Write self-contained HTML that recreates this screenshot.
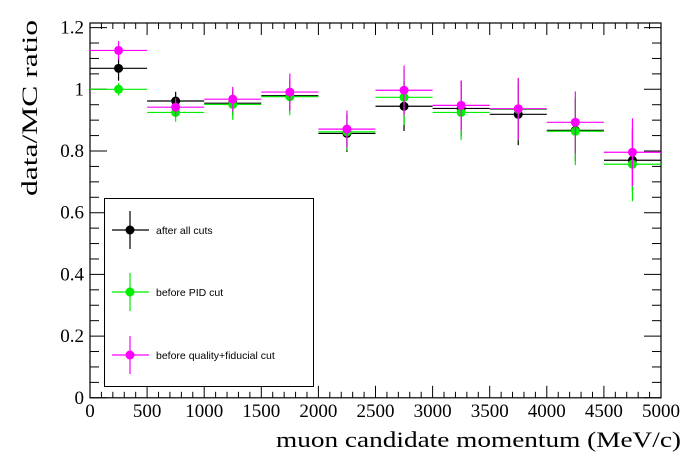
<!DOCTYPE html>
<html><head><meta charset="utf-8"><style>
body{margin:0;background:#fff}
svg{display:block}
text{font-family:"Liberation Serif",serif}
</style></head><body>
<svg id="chart" width="696" height="472" xmlns="http://www.w3.org/2000/svg">
<g id="ticks"></g>
<g id="marks"></g>
<g id="legend">
<rect x="104.5" y="198.5" width="209" height="188" fill="#fff" stroke="#000" stroke-width="1"/>
</g>
<text x="276" y="447" font-size="22" textLength="405" lengthAdjust="spacingAndGlyphs">muon candidate momentum (MeV/c)</text>
<text transform="translate(37,196) rotate(-90)" font-size="22" textLength="176" lengthAdjust="spacingAndGlyphs">data/MC ratio</text>
</svg>
<script>
const binEdges=[0,500,1000,1500,2000,2500,3000,3500,4000,4500,5000];
const seriesNames=["after all cuts","before PID cut","before quality+fiducial cut"];
const seriesColors=["#000000","#00ee00","#ff00ff"];
const allCuts=[1.068,0.962,0.955,0.979,0.857,0.945,0.938,0.919,0.867,0.770];
const allCutsErr=[0.04,0.03,0.04,0.05,0.06,0.08,0.09,0.10,0.10,0.10];
const beforePID=[1.0,0.925,0.951,0.976,0.862,0.974,0.925,0.935,0.864,0.757];
const beforePIDErr=[0.02,0.03,0.05,0.06,0.06,0.09,0.09,0.10,0.11,0.12];
const beforeQual=[1.126,0.942,0.968,0.991,0.871,0.997,0.948,0.937,0.893,0.796];
const beforeQualErr=[0.03,0.03,0.04,0.06,0.06,0.08,0.08,0.10,0.10,0.11];
const xTicks=[0,500,1000,1500,2000,2500,3000,3500,4000,4500,5000];
const yTicks=[0,0.2,0.4,0.6,0.8,1,1.2];
const yTickLabels=["0","0.2","0.4","0.6","0.8","1","1.2"];

const X0=90,X1=661,Y0=397.8,YTOP=23;
const sx=v=>X0+(v/5000)*(X1-X0);
const sy=v=>Y0-v*308.5;
const NS="http://www.w3.org/2000/svg";
function mk(tag,attrs,parent){const e=document.createElementNS(NS,tag);for(const k in attrs)e.setAttribute(k,attrs[k]);parent.appendChild(e);return e;}
const ax=document.getElementById('ticks');
const fr=mk('rect',{x:X0,y:YTOP,width:X1-X0,height:Y0-YTOP,fill:'none',stroke:'#000','stroke-width':1.2},ax);


for(let v=0;v<=5000;v+=100){
  const major=v%500===0,L=major?12:6,x=sx(v);
  const t=mk('line',{x1:x,x2:x,y1:Y0,y2:Y0-L,stroke:'#000'},ax);
  
  
  const t2=mk('line',{x1:x,x2:x,y1:YTOP,y2:YTOP+L,stroke:'#000'},ax);
  
  
}
xTicks.forEach(v=>{
  const t=mk('text',{x:sx(v),y:417,'font-size':19,'text-anchor':'middle'},ax);t.textContent=v;
  
  
});
for(let i=0;i<=24;i++){
  const v=i*0.05,major=i%4===0,L=major?17:9,y=sy(v);
  if(y<YTOP)continue;
  const t=mk('line',{x1:X0,x2:X0+L,y1:y,y2:y,stroke:'#000'},ax);
  
  
  const t2=mk('line',{x1:X1,x2:X1-L,y1:y,y2:y,stroke:'#000'},ax);
  
  
}
yTicks.forEach((v,i)=>{
  const t=mk('text',{x:84,y:sy(v)+6,'font-size':19,'text-anchor':'end'},ax);t.textContent=yTickLabels[i];
  
  
});
const mg=document.getElementById('marks');
const data=[[allCuts,allCutsErr],[beforePID,beforePIDErr],[beforeQual,beforeQualErr]];
data.forEach(([vals,errs],s)=>{
  const c=seriesColors[s];
  vals.forEach((v,i)=>{
    const xa=sx(binEdges[i]),xb=sx(binEdges[i+1]),xc=(xa+xb)/2,y=sy(v);
    const h=mk('line',{x1:xa,x2:xb,y1:y,y2:y,stroke:c,'stroke-width':1.2},mg);
    
    
    const e=mk('line',{x1:xc,x2:xc,y1:sy(v+errs[i]),y2:sy(v-errs[i]),stroke:c,'stroke-width':1.2},mg);
    
    
    const p=mk('circle',{cx:xc,cy:y,r:4.5,fill:c},mg);
    
    
  });
});
const lg=document.getElementById('legend');
[230,292,355].forEach((y,s)=>{
  const c=seriesColors[s];
  const g=mk('g',{},lg);
  
  
  mk('line',{x1:112,x2:149,y1:y,y2:y,stroke:c,'stroke-width':1.2},g);
  mk('line',{x1:130,x2:130,y1:y-19,y2:y+19,stroke:c,'stroke-width':1.2},g);
  mk('circle',{cx:130,cy:y,r:4.5,fill:c},g);
  const t=mk('text',{x:156,y:y+4,'font-size':10.5,style:'font-family:"Liberation Sans",sans-serif'},g);
  t.textContent=seriesNames[s];
});
</script>
</body></html>
